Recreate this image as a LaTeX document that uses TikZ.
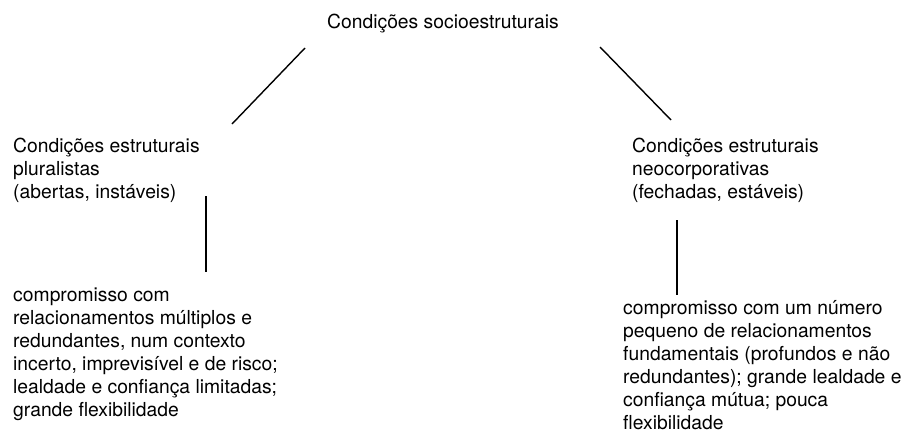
\documentclass[tikz,border=0pt]{standalone}
\usepackage{fontspec}
\setmainfont{TeX Gyre Heros}
\begin{document}
\begin{tikzpicture}[x=1pt, y=-1pt,
    txt/.style={anchor=base west, align=left, inner sep=0pt,
                font=\fontsize{19.3}{23}\selectfont},
    link/.style={line width=1.4pt}]
    \useasboundingbox (0,0) rectangle (906,434);

    % Top heading
    \node[txt] (socio) at (327,28) {Condições socioestruturais};

    % The two kinds of structural conditions (placed at the last line)
    \node[txt] (plural) at (13,198) {Condições estruturais\\pluralistas\\(abertas, instáveis)};
    \node[txt] (neocorp) at (632,198) {Condições estruturais\\neocorporativas\\(fechadas, estáveis)};

    % What each kind leads to
    \node[txt] (pluralres) at (13,416) {compromisso com\\relacionamentos múltiplos e\\redundantes, num contexto\\incerto, imprevisível e de risco;\\lealdade e confiança limitadas;\\grande flexibilidade};
    \node[txt] (neocorpres) at (623,429) {compromisso com um número\\pequeno de relacionamentos\\fundamentais (profundos e não\\redundantes); grande lealdade e\\confiança mútua; pouca\\flexibilidade};

    % Ends of the connecting lines
    \coordinate (socioL) at (305,48);
    \coordinate (pluralT) at (232,124);
    \coordinate (socioR) at (600,47);
    \coordinate (neocorpT) at (671,120);
    \coordinate (pluralB) at (206,196);
    \coordinate (pluralresT) at (206,272);
    \coordinate (neocorpB) at (677,220);
    \coordinate (neocorpresT) at (677,295);

    % Draw the connecting lines
    \draw[link] (socioL) -- (pluralT);
    \draw[link] (socioR) -- (neocorpT);
    \draw[link] (pluralB) -- (pluralresT);
    \draw[link] (neocorpB) -- (neocorpresT);

\end{tikzpicture}
\end{document}
